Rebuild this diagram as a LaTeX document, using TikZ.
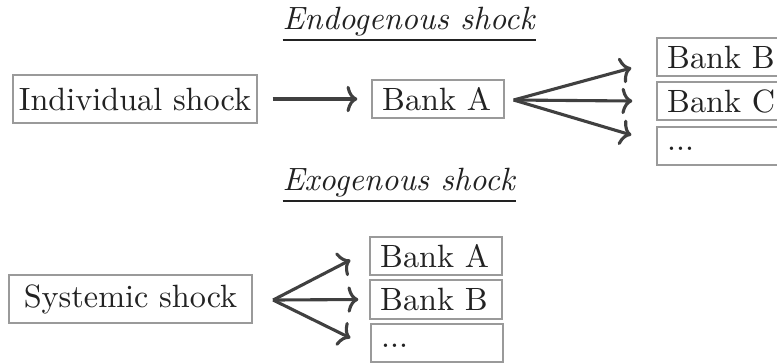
\documentclass[tikz,border=0pt]{standalone}
\usetikzlibrary{arrows.meta}
\definecolor{boxgray}{HTML}{9A9A9A}
\definecolor{arrgray}{HTML}{404040}
\definecolor{txtgray}{HTML}{222222}
\tikzset{
  shockbox/.style={draw=boxgray,line width=0.6pt,minimum width=78.5pt,minimum height=15.5pt,inner sep=0pt},
  bankbox/.style={draw=boxgray,line width=0.6pt,text width=36pt,align=left,inner xsep=3.2pt,inner ysep=0pt,minimum height=12.4pt},
  dotsbox/.style={bankbox,text height=3pt,text depth=0pt},
  shocktitle/.style={anchor=base west,inner sep=0pt},
  arr/.style={draw=arrgray,line width=1pt,-{Computer Modern Rightarrow[length=3.5pt,width=8.5pt]}}
}
\begin{document}
\begin{tikzpicture}[x=0.3226pt,y=-0.3226pt,font=\fontsize{10.4pt}{12.5pt}\selectfont,text=txtgray]
\useasboundingbox (0,0) rectangle (777,363);
\pgfmathsetmacro{\kupx}{723}
\pgfmathsetmacro{\klowx}{436}
% endogenous
\node[shocktitle](endo) at (282,29){\underline{\textit{Endogenous shock}}};
\node[shockbox](indiv) at (135,99){Individual shock};
\node[bankbox](bankA) at (438,99){Bank A};
\node[bankbox](upB) at (\kupx,57){Bank B};
\node[bankbox](upC) at (\kupx,101){Bank C};
\node[dotsbox](upD) at (\kupx,146){...};
\draw[arr]([shift={(15,0)}]indiv.east)--([shift={(-14,0)}]bankA.west);
\coordinate(fanU) at ([shift={(9,1)}]bankA.east);
\foreach \n/\dx/\dy in {upB/-25/11,upC/-24/0,upD/-25/-11}{\draw[arr](fanU)--([shift={(\dx,\dy)}]\n.west);}
% exogenous
\node[shocktitle](exo) at (282,190){\underline{\textit{Exogenous shock}}};
\node[shockbox](syst) at (130.5,299){Systemic shock};
\node[bankbox](lowA) at (\klowx,256){Bank A};
\node[bankbox](lowB) at (\klowx,299.5){Bank B};
\node[dotsbox](lowD) at (\klowx+1,343){...};
\coordinate(fanL) at ([shift={(20,1)}]syst.east);
\foreach \n/\dx/\dy in {lowA/-19/4,lowB/-11/0,lowD/-20/-5}{\draw[arr](fanL)--([shift={(\dx,\dy)}]\n.west);}
\end{tikzpicture}
\end{document}
